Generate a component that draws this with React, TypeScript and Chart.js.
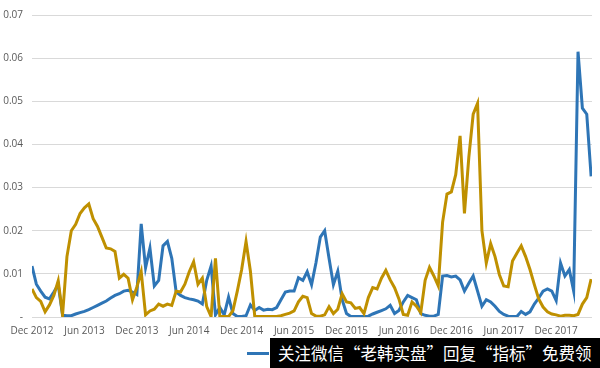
import React, { useEffect, useRef } from "react";
import { Chart, registerables } from "chart.js";

Chart.register(...registerables);

const tickLabels = [
  "Dec 2012", "Jun 2013", "Dec 2013", "Jun 2014", "Dec 2014", "Jun 2015",
  "Dec 2015", "Jun 2016", "Dec 2016", "Jun 2017", "Dec 2017",
];
const tickMonths = [0, 6, 12, 18, 24, 30, 36, 42, 48, 54, 60];
const stepMonths = 0.5;

const blueSeries = [
  0.0118, 0.0076, 0.006, 0.0046, 0.0042, 0.0058, 0.0075, 0.0004, 0.0003, 0.0003,
  0.0007, 0.001, 0.0013, 0.0017, 0.0022, 0.0027, 0.0032, 0.0037, 0.0044, 0.005,
  0.0054, 0.006, 0.0062, 0.0058, 0.0052, 0.0216, 0.0114, 0.016, 0.0072, 0.0085,
  0.0165, 0.0175, 0.0136, 0.0058, 0.005, 0.0045, 0.0042, 0.004, 0.0037, 0.003,
  0.0085, 0.0118, 0.0005, 0.0022, 0.0005, 0.0046, 0.0008, 0.0001, 0.0001, 0.0003,
  0.0028, 0.0015, 0.0022, 0.0016, 0.0018, 0.0017, 0.0022, 0.004, 0.0058, 0.006,
  0.006, 0.0091, 0.0085, 0.0105, 0.0075, 0.0125, 0.0185, 0.02, 0.0136, 0.0075,
  0.0106, 0.004, 0.0008, 0.0001, 0.0001, 0.0001, 0.0001, 0.0002, 0.0007, 0.0011,
  0.0015, 0.0019, 0.0027, 0.0008, 0.0015, 0.0035, 0.005, 0.0045, 0.004, 0.0008,
  0.0004, 0.0002, 0.0002, 0.0006, 0.0095, 0.0096, 0.0093, 0.0095, 0.0086, 0.006,
  0.0078, 0.0095, 0.006, 0.0025, 0.004, 0.0035, 0.0025, 0.0013, 0.0006, 0.0002,
  0.0001, 0.0001, 0.0013, 0.0006, 0.0012, 0.003, 0.0044, 0.006, 0.0065, 0.006,
  0.0038, 0.0125, 0.0095, 0.011, 0.006, 0.0615, 0.0484, 0.047, 0.0326,
];

const goldSeries = [
  0.0065, 0.0045, 0.0036, 0.0012, 0.0028, 0.005, 0.0084, 0.0005, 0.014, 0.02,
  0.0215, 0.024, 0.0253, 0.0262, 0.0228, 0.021, 0.0185, 0.016, 0.0158, 0.0152,
  0.009, 0.0099, 0.009, 0.004, 0.0069, 0.0105, 0.0005, 0.0014, 0.0018, 0.003,
  0.0025, 0.003, 0.0027, 0.006, 0.0058, 0.0076, 0.0105, 0.0128, 0.0076, 0.009,
  0.0024, 0.0001, 0.0136, 0.0001, 0.0001, 0.0001, 0.0015, 0.006, 0.011, 0.0175,
  0.0106, 0.0001, 0.0001, 0.0001, 0.0001, 0.0001, 0.0001, 0.0003, 0.0006, 0.0009,
  0.0014, 0.0035, 0.0048, 0.0045, 0.0008, 0.0002, 0.0002, 0.0005, 0.0024, 0.0008,
  0.0018, 0.0054, 0.0035, 0.0033, 0.002, 0.0022, 0.0008, 0.0045, 0.0068, 0.0065,
  0.009, 0.0108, 0.0086, 0.0068, 0.0042, 0.0006, 0.0004, 0.0035, 0.0025, 0.001,
  0.0085, 0.0115, 0.0095, 0.0072, 0.022, 0.0285, 0.029, 0.033, 0.042, 0.024,
  0.037, 0.047, 0.0495, 0.02, 0.0125, 0.017, 0.014, 0.0098, 0.0072, 0.007,
  0.013, 0.0148, 0.0165, 0.014, 0.011, 0.0075, 0.0042, 0.0023, 0.0012, 0.0007,
  0.0005, 0.0002, 0.0004, 0.0004, 0.0003, 0.0006, 0.003, 0.0045, 0.0088,
];

const BLUE = "#2E75B6";
const GOLD = "#BF9000";
const TEXT = "#595959";
const FONT = "'Open Sans', 'Noto Sans', sans-serif";

export default function App() {
  const canvasRef = useRef<HTMLCanvasElement | null>(null);

  useEffect(() => {
    document.body.style.margin = "0";
    const canvas = canvasRef.current;
    if (!canvas) return;
    const toPoints = (arr: number[]) => arr.map((v, i) => ({ x: i * stepMonths, y: v }));
    const chart = new Chart(canvas, {
      type: "line",
      data: {
        datasets: [
          {
            label: "Series 1",
            data: toPoints(blueSeries),
            borderColor: BLUE,
            backgroundColor: BLUE,
            borderWidth: 3,
            pointRadius: 0,
            tension: 0,
            order: 1,
          },
          {
            label: "Series 2",
            data: toPoints(goldSeries),
            borderColor: GOLD,
            backgroundColor: GOLD,
            borderWidth: 3,
            pointRadius: 0,
            tension: 0,
            order: 0,
          },
        ],
      },
      options: {
        animation: false,
        responsive: true,
        maintainAspectRatio: false,
        layout: { padding: { top: 8, right: 8, left: 0, bottom: 0 } },
        plugins: { legend: { display: false }, tooltip: { enabled: false } },
        scales: {
          x: {
            type: "linear",
            min: 0,
            max: 64.1,
            grid: { display: false, drawTicks: false },
            border: { display: false },
            afterFit: (scale: any) => {
              scale.height = 51;
            },
            afterBuildTicks: (scale: any) => {
              scale.ticks = tickMonths.map((v) => ({ value: v }));
            },
            ticks: {
              autoSkip: false,
              maxRotation: 0,
              padding: 8,
              color: TEXT,
              font: { family: FONT, size: 10 },
              callback: (v: any) => {
                const idx = tickMonths.indexOf(Number(v));
                return idx >= 0 ? tickLabels[idx] : "";
              },
            },
          },
          y: {
            min: 0,
            max: 0.07,
            grid: { color: "#D9D9D9", lineWidth: 1, drawTicks: false },
            border: { display: false },
            afterFit: (scale: any) => {
              scale.width = 32;
            },
            ticks: {
              stepSize: 0.01,
              padding: 9,
              color: TEXT,
              font: { family: FONT, size: 10 },
              callback: (v: any) => (Math.abs(Number(v)) < 1e-9 ? "-" : Number(v).toFixed(2)),
            },
          },
        },
      },
    });
    return () => chart.destroy();
  }, []);

  return (
    <div style={{ position: "relative", width: 600, height: 368, background: "#fff", overflow: "hidden" }}>
      <canvas ref={canvasRef} />
      <div
        style={{
          position: "absolute",
          left: 247,
          top: 352,
          width: 22,
          height: 3,
          background: BLUE,
        }}
      />
      <div
        style={{
          position: "absolute",
          left: 270,
          top: 338,
          width: 330,
          height: 30,
          background: "#000",
          color: "#fff",
          fontFamily: "'Noto Sans CJK SC', sans-serif",
          fontSize: 16.5,
          lineHeight: "30px",
          paddingLeft: 8,
          boxSizing: "border-box",
          whiteSpace: "nowrap",
        }}
      >
        关注微信“老韩实盘”回复“指标”免费领
      </div>
    </div>
  );
}
